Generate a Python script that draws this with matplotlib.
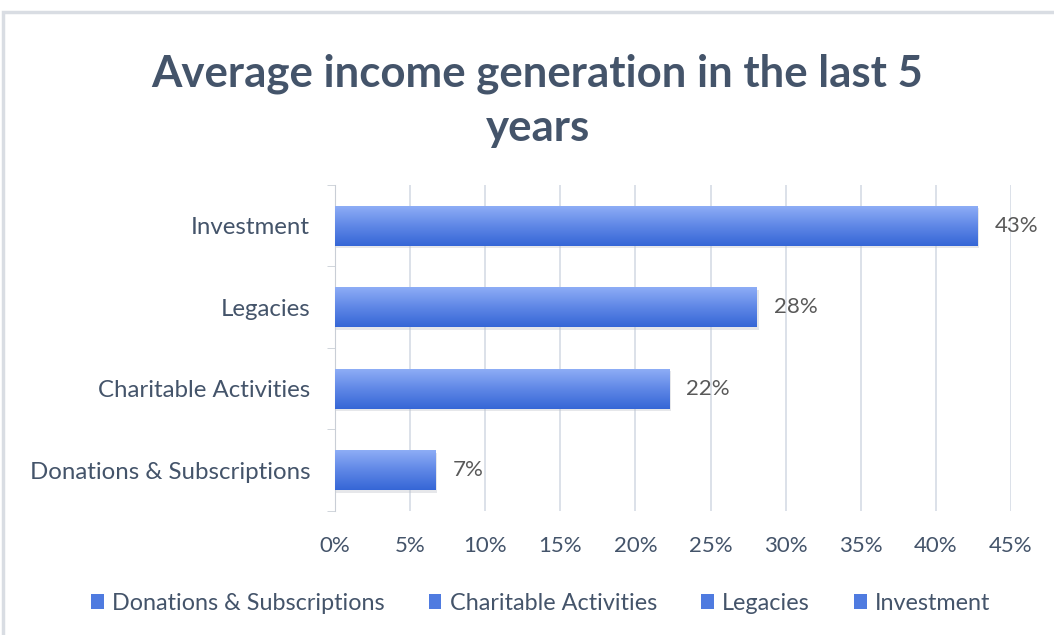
import numpy as np
import matplotlib
matplotlib.use("Agg")
import matplotlib.pyplot as plt
from matplotlib.patches import Rectangle, Patch
from matplotlib.colors import LinearSegmentedColormap

# data
categories = ["Donations & Subscriptions", "Charitable Activities", "Legacies", "Investment"]
shares = [6.7, 22.3, 28.1, 42.8]
labels = ["7%", "22%", "28%", "43%"]
xticks = [0, 5, 10, 15, 20, 25, 30, 35, 40, 45]

plt.rcParams['font.family'] = ['Lato', 'DejaVu Sans']
text_col = '#44546a'
grid_col = '#d6dce5'

fig = plt.figure(figsize=(10.54, 6.35), dpi=100)

# light frame of the chart area (only left and top edges are visible)
fig.patches.append(Rectangle((0.003, -0.05), 1.1, 0.031 + 0.05 + 0.95, transform=fig.transFigure,
                             fill=False, edgecolor='#d9dde3', linewidth=2.5, zorder=0))

ax = fig.add_axes([0.318, 0.1953, 0.641, 0.5134])
ax.set_xlim(0, 45)
ax.set_ylim(-0.5, 3.5)

cmap = LinearSegmentedColormap.from_list("bar", ["#3566d6", "#5f87e6", "#8eadf6"])
grad = np.linspace(0, 1, 256).reshape(-1, 1)
h = 0.49
for i, v in enumerate(shares):
    # soft shadow
    ax.add_patch(Rectangle((0.05, i - h / 2 - 0.03), v + 0.05, h, facecolor='#b8bcc4',
                           alpha=0.35, edgecolor='none', zorder=2))
    ax.imshow(grad, cmap=cmap, origin='lower', aspect='auto',
              extent=[0, v, i - h / 2, i + h / 2], zorder=3)
    ax.text(v + 1.1, i, labels[i], va='center', ha='left', fontsize=16, color='#595959')

ax.set_xticks(xticks)
ax.set_xticklabels([f"{t}%" for t in xticks], fontsize=16, color=text_col)
ax.set_yticks(range(len(categories)))
ax.set_yticklabels(categories, fontsize=17.3, color=text_col)
ax.set_yticks(np.arange(-0.5, 4, 1), minor=True)
ax.tick_params(axis='y', which='major', length=0, pad=18)
ax.tick_params(axis='y', which='minor', length=6, color='#c9ced6', direction='out')
ax.tick_params(axis='x', length=0, pad=18)
ax.grid(axis='x', color=grid_col, linewidth=1.2, zorder=0)
ax.set_axisbelow(True)
for s in ['top', 'right', 'bottom']:
    ax.spines[s].set_visible(False)
ax.spines['left'].set_color('#c9ced6')

fig.text(0.51, 0.842, "Average income generation in the last 5\nyears", ha='center', va='center',
         fontsize=31.5, fontweight='bold', color=text_col, linespacing=1.42)

handles = [Patch(facecolor='#4f7be0', edgecolor='none') for _ in categories]
fig.legend(handles, categories, loc='center', bbox_to_anchor=(0.513, 0.05), ncol=4, frameon=False,
           fontsize=16.8, labelcolor=text_col, handlelength=0.55, handleheight=0.55,
           handletextpad=0.35, columnspacing=1.9)

fig.savefig("out.png", dpi=100)
